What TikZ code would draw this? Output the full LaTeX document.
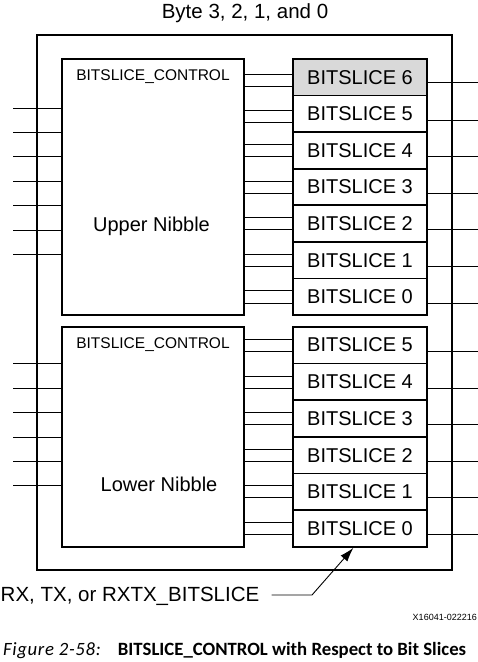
\documentclass[tikz,border=0pt]{standalone}
\usepackage{fontspec}
\setmainfont{Liberation Sans}
\newfontfamily\capfont{Carlito}
\newfontfamily\figfont[LetterSpace=3.5]{Carlito}
\usetikzlibrary{arrows.meta}
\begin{document}
\begin{tikzpicture}[x=1pt,y=-1pt,
  box/.style={draw,line width=1.8pt,inner sep=0pt},
  bs/.style={box,minimum width=134pt,font=\fontsize{20}{24}\selectfont},
  wire/.style={line width=0.9pt},
  txt/.style={inner sep=0pt}]
\useasboundingbox (0,0) rectangle (478,662);
% title
\node[txt,anchor=base,font=\fontsize{20.5}{24}\selectfont] (title) at (245,18.3) {Byte 3, 2, 1, and 0};
% outer box
\node[box,minimum width=415pt,minimum height=535pt] (outer) at (244.5,302.5) {};
% control boxes
\node[box,minimum width=182pt,minimum height=256pt] (cu) at (153,187) {};
\node[box,minimum width=182pt,minimum height=220.3pt] (cl) at (153,436.85) {};
\node[txt,anchor=base,font=\fontsize{15.5}{18}\selectfont] (cut) at (153,80.7) {BITSLICE\_CONTROL};
\node[txt,anchor=base,font=\fontsize{15.5}{18}\selectfont] (clt) at (153,348.3) {BITSLICE\_CONTROL};
\node[txt,anchor=base,font=\fontsize{20}{24}\selectfont] (un) at (151.5,231.3) {Upper Nibble};
\node[txt,anchor=base,font=\fontsize{20}{24}\selectfont] (ln) at (159,491.7) {Lower Nibble};
% upper bitslices
\foreach \i in {0,...,6}
  \node[bs,minimum height=36.57pt] (u\i) at (360,{59+(6-\i)*36.571+18.286}) {BITSLICE \i};
\node[bs,minimum height=36.57pt,fill=black!15] at (u6) {BITSLICE 6};
% lower bitslices
\foreach \i in {0,...,5}
  \node[bs,minimum height=36.72pt] (l\i) at (360,{326.7+(5-\i)*36.72+18.36}) {BITSLICE \i};
% upper wires
\foreach \i/\a/\b/\o in {6/74/86/82.7,5/110.3/122/120,4/144.3/156.3/156.3,3/181.3/193.3/193.3,2/217.7/229.3/229.3,1/254.3/266.3/266.3,0/290.3/303.3/303.3}{
  \draw[wire] (cu.east |- 0,\a) -- (u\i.west |- 0,\a);
  \draw[wire] (cu.east |- 0,\b) -- (u\i.west |- 0,\b);
  \draw[wire] (u\i.east |- 0,\o) -- (478,\o);
}
% lower wires
\foreach \i/\a/\b/\o in {5/339.7/351.3/351.3,4/376.7/388.3/388.3,3/412.3/424.3/424.3,2/449/461.3/461.3,1/485/497.3/497.3,0/522.3/534.3/534.3}{
  \draw[wire] (cl.east |- 0,\a) -- (l\i.west |- 0,\a);
  \draw[wire] (cl.east |- 0,\b) -- (l\i.west |- 0,\b);
  \draw[wire] (l\i.east |- 0,\o) -- (478,\o);
}
% left inputs
\foreach \y in {108.3,132.3,156.3,181.3,205.3,230.3,254.3}
  \draw[wire] (cu.west |- 0,\y) -- (13,\y);
\foreach \y in {363.3,388.3,412.3,437.3,461.3,485}
  \draw[wire] (cl.west |- 0,\y) -- (13,\y);
% callout
\node[txt,anchor=base west,font=\fontsize{20.5}{24}\selectfont] (rx) at (0.5,601.7) {RX, TX, or RXTX\_BITSLICE};
\coordinate (bend) at (312,595);
\draw[wire,-{Latex[length=14pt,width=9pt]}] (271.7,595) -- (bend) -- ([xshift=-6.7pt]l0.south);
% id
\node[txt,anchor=base east,font=\fontsize{9}{10}\selectfont] (id) at (477,620) {X16041-022216};
% caption
\node[txt,anchor=base west,font=\figfont\itshape\fontsize{18.75}{22}\selectfont] (fig) at (3,655.5) {Figure 2-58:};
\node[txt,anchor=base west,font=\capfont\bfseries\fontsize{18.75}{22}\selectfont] (cap) at (117.7,655.5) {BITSLICE\_CONTROL with Respect to Bit Slices};
\end{tikzpicture}
\end{document}
